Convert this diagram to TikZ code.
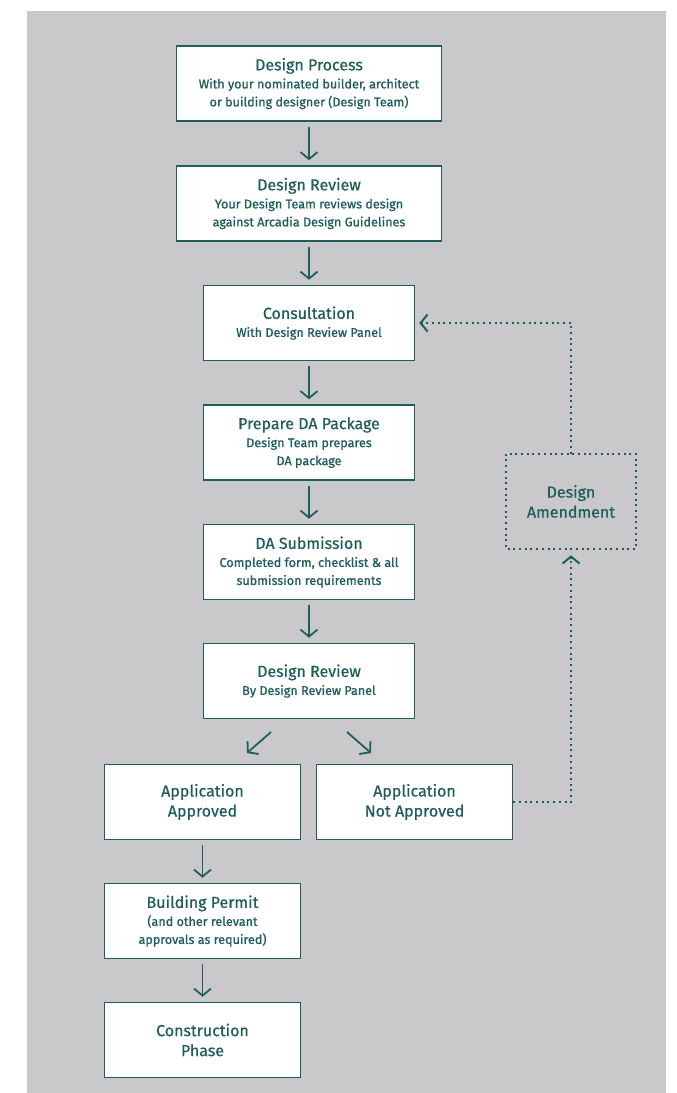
\documentclass[tikz,border=0pt]{standalone}
\usepackage{fontspec}
\setmainfont{Fira Sans}
\newfontfamily\ttlff[FakeBold=0.6]{Fira Sans}
\newfontfamily\subff[FakeBold=1.0]{Fira Sans}
\usetikzlibrary{arrows.meta,calc}
\definecolor{teal1}{HTML}{1F5E5B}
\definecolor{bgray}{HTML}{C9C9CB}
\newcommand\tfnt{\ttlff\fontsize{16}{20}\selectfont}
\newcommand\sfnt{\subff\fontsize{12.6}{18}\selectfont}
\begin{document}
\begin{tikzpicture}[x=1pt,y=-1pt,
  box/.style={draw=teal1, line width=1.5pt, fill=white, text=teal1, align=center,
    inner sep=0pt, minimum height=75pt},
  wbig/.style={minimum width=265pt},
  wmid/.style={minimum width=211pt},
  wsm/.style={minimum width=196pt},
  tipv/.style={-{Straight Barb[length=7pt,width=17pt]}},
  arr/.style={draw=teal1, line width=1.8pt, tipv, shorten <=5pt, shorten >=5pt},
  darr/.style={draw=teal1, line width=1.8pt, tipv},
  dotline/.style={draw=teal1, line width=2pt, dash pattern=on 2pt off 3.7pt},
]
\useasboundingbox (0,0) rectangle (677,1093);
\fill[bgray] (27,11) rectangle (666,1093);

\node[box,wbig,font=\sfnt] (b1) at (309,83.5) {{\tfnt Design Process}\\With your nominated builder, architect\\or building designer (Design Team)};
\node[box,wbig,font=\sfnt] (b2) at (309,203.5) {{\tfnt Design Review}\\Your Design Team reviews design\\against Arcadia Design Guidelines};
\node[box,wmid,font=\sfnt] (b3) at (309,323) {{\tfnt Consultation}\\With Design Review Panel};
\node[box,wmid,font=\sfnt] (b4) at (309,442.5) {{\tfnt Prepare DA Package}\\Design Team prepares\\DA package};
\node[box,wmid,font=\sfnt] (b5) at (309,562) {{\tfnt DA Submission}\\Completed form, checklist \& all\\submission requirements};
\node[box,wmid,font=\sfnt] (b6) at (309,681) {{\tfnt Design Review}\\By Design Review Panel};
\node[box,wsm,font=\tfnt] (b7) at (202.5,802) {Application\\Approved};
\node[box,wsm,font=\tfnt] (b8) at (414.5,802) {Application\\Not Approved};
\node[box,wsm,font=\sfnt] (b9) at (202.5,921) {{\tfnt Building Permit}\\(and other relevant\\approvals as required)};
\node[box,wsm,font=\tfnt] (b10) at (202.5,1040) {Construction\\Phase};
\node[box,fill=none,draw=none,minimum width=128pt,minimum height=94pt,font=\tfnt] (am) at (571,501.5) {Design\\Amendment};
\draw[dotline] (am.north west) rectangle (am.south east);

\draw[arr] (b1) -- (b2);
\draw[arr] (b2) -- (b3);
\draw[arr] (b3) -- (b4);
\draw[arr] (b4) -- (b5);
\draw[arr] (b5) -- (b6);
\draw[arr] (b7) -- (b9);
\draw[arr] (b9) -- (b10);

\coordinate (d1s) at (271,732);
\coordinate (d1e) at (247,753);
\coordinate (d2s) at (347,732);
\coordinate (d2e) at (371,753);
\draw[darr] (d1s) -- (d1e);
\draw[darr] (d2s) -- (d2e);

\coordinate (c1) at (am.south |- b8.east);
\draw[dotline,tipv] (b8.east) -- (c1) -- ([yshift=-6pt]am.south);
\draw[dotline,tipv] (am.north) |- ([xshift=4pt]b3.east);
\end{tikzpicture}
\end{document}
